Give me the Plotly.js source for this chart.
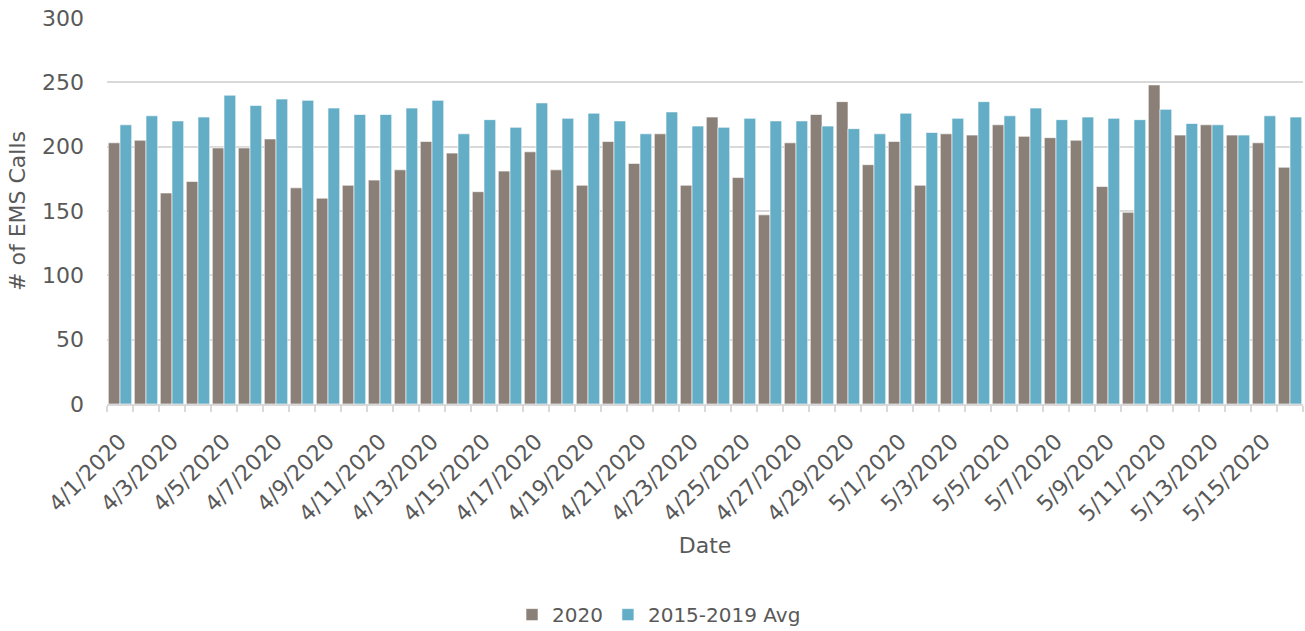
<!DOCTYPE html>
<html>
<head>
<meta charset="utf-8">
<script src="https://cdn.plot.ly/plotly-3.0.1.min.js"></script>
<style>html,body{margin:0;padding:0;background:#fff;}#chart{width:1305px;height:631px;}</style>
</head>
<body>
<div id="chart"></div>
<script>
const dates = [
"4/1/2020","4/2/2020","4/3/2020","4/4/2020","4/5/2020","4/6/2020","4/7/2020","4/8/2020","4/9/2020","4/10/2020",
"4/11/2020","4/12/2020","4/13/2020","4/14/2020","4/15/2020","4/16/2020","4/17/2020","4/18/2020","4/19/2020","4/20/2020",
"4/21/2020","4/22/2020","4/23/2020","4/24/2020","4/25/2020","4/26/2020","4/27/2020","4/28/2020","4/29/2020","4/30/2020",
"5/1/2020","5/2/2020","5/3/2020","5/4/2020","5/5/2020","5/6/2020","5/7/2020","5/8/2020","5/9/2020","5/10/2020",
"5/11/2020","5/12/2020","5/13/2020","5/14/2020","5/15/2020","5/16/2020"];
const calls2020 = [
203,205,164,173,199,199,206,168,160,170,
174,182,204,195,165,181,196,182,170,204,
187,210,170,223,176,147,203,225,235,186,
204,170,210,209,217,208,207,205,169,149,
248,209,217,209,203,184];
const avg2015_2019 = [
217,224,220,223,240,232,237,236,230,225,
225,230,236,210,221,215,234,222,226,220,
210,227,216,215,222,220,220,216,214,210,
226,211,222,235,224,230,221,223,222,221,
229,218,217,209,224,223];
const yTicks = [0,50,100,150,200,250,300];

const tickText = dates.map((d,i)=> i%2===0 ? d : "");
const FONT = "DejaVu Sans, sans-serif";
const TXT = "#595959";

const traces = [
  {type:"bar", name:"2020", x:dates, y:calls2020,
   marker:{color:"#8b8078", line:{color:"rgba(255,255,255,0.6)", width:1}}},
  {type:"bar", name:"2015-2019 Avg", x:dates, y:avg2015_2019,
   marker:{color:"#63aec6", line:{color:"rgba(255,255,255,0.6)", width:1}}}
];

const layout = {
  width:1305, height:631,
  margin:{l:107, r:2, t:18, b:227, autoexpand:false},
  paper_bgcolor:"#fff", plot_bgcolor:"#fff",
  font:{family:FONT, color:TXT, size:22},
  barmode:"group", bargap:0.1, bargroupgap:0,
  showlegend:true,
  legend:{orientation:"h", xref:"container", x:0.505, xanchor:"center", yref:"container", y:0.026, yanchor:"middle",
          font:{size:20, color:TXT}, itemwidth:30, tracegroupgap:0},
  xaxis:{type:"category", tickmode:"array", tickvals:dates, ticktext:tickText,
         tickangle:-45, tickson:"boundaries", ticks:"outside", ticklen:6, tickwidth:2,
         tickcolor:"#d9d9d9", showline:true, linecolor:"#d9d9d9", linewidth:2,
         showgrid:false, automargin:false, tickfont:{size:22, color:TXT}, ticklabelstandoff:14,
         title:{text:"Date", font:{size:22, color:TXT}, standoff:12}},
  yaxis:{range:[0,300], tickvals:yTicks, showgrid:true, gridcolor:"#d9d9d9", gridwidth:2,
         zeroline:false, showline:false, ticks:"", automargin:false, ticklabelstandoff:22,
         tickfont:{size:22, color:TXT},
         title:{text:"# of EMS Calls", font:{size:22, color:TXT}, standoff:10}}
};

Plotly.newPlot("chart", traces, layout, {displayModeBar:false, staticPlot:true});
</script>
</body>
</html>
